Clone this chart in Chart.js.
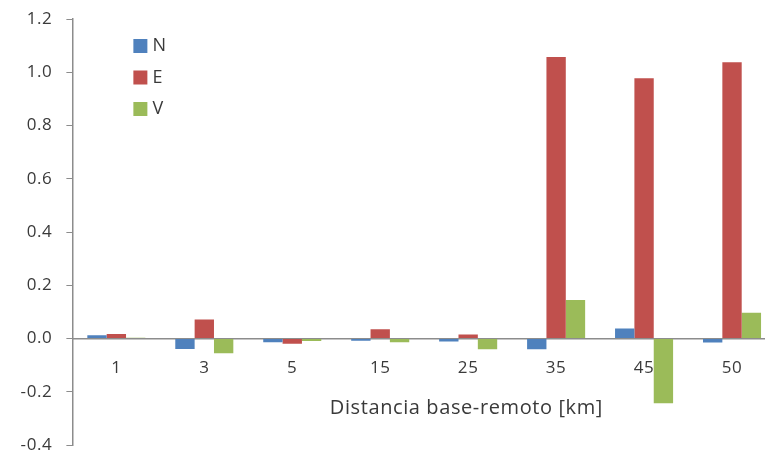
<!DOCTYPE html>
<html lang="es">
<head>
    <meta charset="UTF-8">
    <title>Distancia base-remoto</title>
    <script src="https://cdn.jsdelivr.net/npm/chart.js"></script>
    <style>
        body {
            margin: 0;
            background-color: #ffffff;
            overflow: hidden;
        }
        .chart-box {
            width: 780px;
            height: 455px;
        }
    </style>
</head>
<body>
    <div class="chart-box">
        <canvas id="chart"></canvas>
    </div>

    <script>
        // data
        const distancias = ['1', '3', '5', '15', '25', '35', '45', '50'];
        const valoresN = [0.012, -0.039, -0.014, -0.008, -0.011, -0.040, 0.038, -0.015];
        const valoresE = [0.017, 0.071, -0.020, 0.035, 0.015, 1.057, 0.977, 1.038];
        const valoresV = [0.003, -0.055, -0.009, -0.014, -0.040, 0.145, -0.243, 0.097];
        const ejeY = { min: -0.4, max: 1.2, paso: 0.2 };
        const tituloX = 'Distancia base-remoto [km]';

        const textColor = '#3a3a3a';
        const axisColor = '#8c8c8c';
        const fontFamily = '"Open Sans", "Liberation Sans", sans-serif';

        // legend in the top left corner + x axis title
        const overlay = {
            id: 'overlay',
            beforeDraw(chart) {
                chart.ctx.letterSpacing = '0.6px';
            },
            afterDraw(chart) {
                const ctx = chart.ctx;
                const area = chart.chartArea;
                ctx.save();
                ctx.font = '18px ' + fontFamily;
                ctx.textBaseline = 'middle';
                ctx.textAlign = 'left';
                chart.data.datasets.forEach((ds, i) => {
                    const y = area.top + 27 + i * 31.5;
                    ctx.fillStyle = ds.backgroundColor;
                    ctx.fillRect(area.left + 61, y - 7, 14, 14);
                    ctx.fillStyle = textColor;
                    ctx.fillText(ds.label, area.left + 80, y);
                });
                ctx.font = '20px ' + fontFamily;
                ctx.textAlign = 'center';
                ctx.fillText(tituloX, area.left + 394, area.top + 389);
                ctx.restore();
            }
        };

        new Chart(document.getElementById('chart'), {
            type: 'bar',
            data: {
                labels: distancias,
                datasets: [
                    { label: 'N', data: valoresN, backgroundColor: '#4f81bd' },
                    { label: 'E', data: valoresE, backgroundColor: '#c0504d' },
                    { label: 'V', data: valoresV, backgroundColor: '#9bbb59' }
                ]
            },
            options: {
                responsive: true,
                maintainAspectRatio: false,
                animation: false,
                categoryPercentage: 0.66,
                barPercentage: 1.0,
                layout: { padding: { top: 19, bottom: 10, left: 9, right: 4 } },
                plugins: {
                    legend: { display: false },
                    tooltip: { enabled: false }
                },
                scales: {
                    x: {
                        position: { y: 0 },
                        grid: { display: false, drawTicks: false },
                        border: { color: axisColor, width: 1.5 },
                        ticks: {
                            color: textColor,
                            padding: 19,
                            font: { family: fontFamily, size: 17 }
                        }
                    },
                    y: {
                        min: ejeY.min,
                        max: ejeY.max,
                        afterFit: scale => {
                            // let the layout padding alone decide top and bottom
                            scale.paddingTop = 0;
                            scale.paddingBottom = 0;
                        },
                        grid: {
                            drawOnChartArea: false,
                            tickLength: 6,
                            color: axisColor
                        },
                        border: { color: axisColor, width: 1.5 },
                        ticks: {
                            stepSize: ejeY.paso,
                            color: textColor,
                            padding: 14,
                            font: { family: fontFamily, size: 17 },
                            callback: v => v.toFixed(1)
                        }
                    }
                }
            },
            plugins: [overlay]
        });
    </script>
</body>
</html>
